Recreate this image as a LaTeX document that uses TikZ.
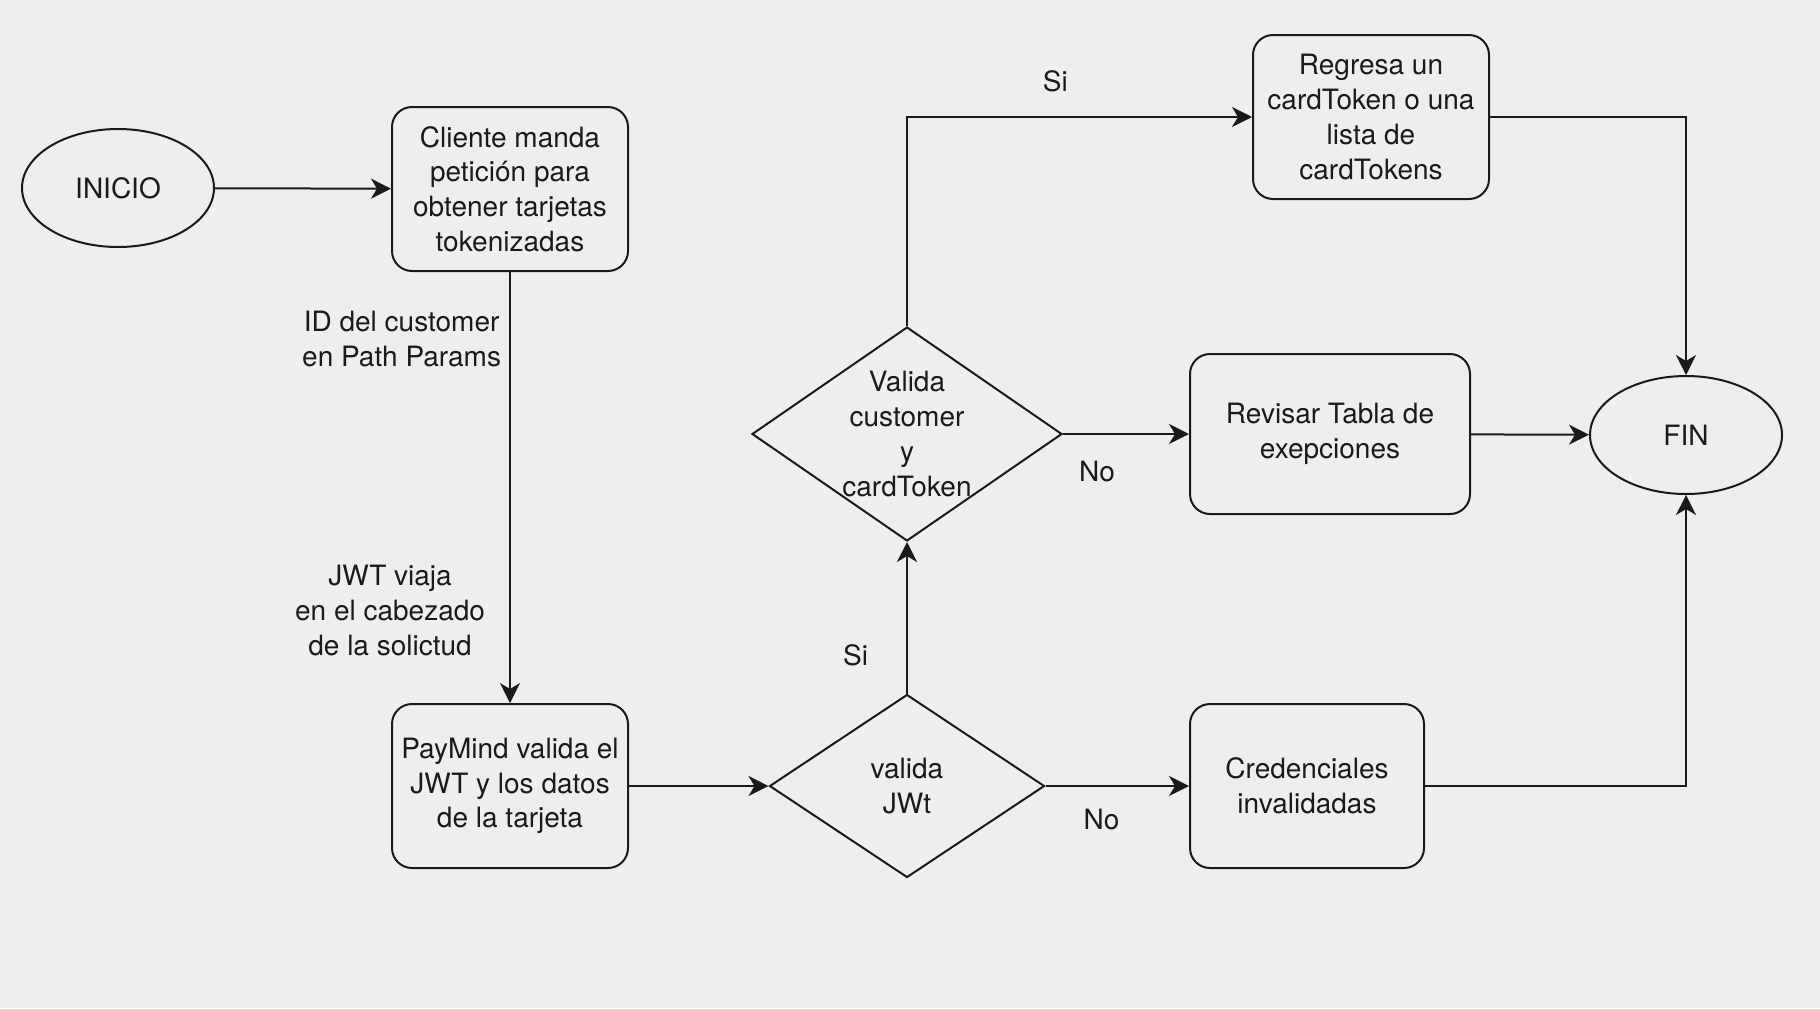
\documentclass[tikz,border=0pt]{standalone}
\usepackage{fontspec}
\setmainfont{TeX Gyre Heros}
\usepackage{xcolor}
\usepackage{tikz}
\usetikzlibrary{shapes.geometric,arrows.meta}

\definecolor{fondo}{HTML}{EEEEEE}
\definecolor{trazo}{HTML}{1A1A1A}

\tikzset{
	caja/.style={draw=trazo, line width=1pt, rounded corners=10pt, align=center,
		minimum width=118pt, minimum height=82pt, inner sep=0pt},
	elipse/.style={draw=trazo, line width=1pt, ellipse, minimum width=96pt,
		minimum height=59pt, inner sep=0pt},
	rombo/.style={draw=trazo, line width=1pt, diamond, inner sep=0pt},
	flecha/.style={draw=trazo, line width=1pt, -{Stealth[length=10pt, width=10pt, inset=3pt]}},
	etiqueta/.style={align=center, inner sep=0pt}
}

\begin{document}
\begin{tikzpicture}[x=0.5pt, y=-0.5pt, font=\fontsize{14}{17.4}\selectfont, text=trazo]
	
	\fill[fondo] (0,0) rectangle (1820,1008);
	
	\node[elipse] (inicio) at (118,188) {INICIO};
	\node[caja] (cliente) at (510,189) {Cliente manda\\petición para\\obtener tarjetas\\tokenizadas};
	\node[caja] (paymind) at (510,786) {PayMind valida el\\JWT y los datos\\de la tarjeta};
	
	\node[rombo, minimum width=137.5pt, minimum height=91.5pt,
		label={[align=center]center:valida\\JWt}] (jwt) at (907,786) {};
	\node[rombo, minimum width=155pt, minimum height=107pt,
		label={[align=center]center:Valida\\customer\\y\\cardToken}] (cust) at (907,434) {};
	
	\node[caja] (regresa) at (1371,117) {Regresa un\\cardToken o una\\lista de\\cardTokens};
	\node[caja, minimum width=140pt, minimum height=80pt] (revisar) at (1330,434) {Revisar Tabla de\\exepciones};
	\node[caja, minimum width=117pt] (cred) at (1307,786) {Credenciales\\invalidadas};
	\node[elipse] (fin) at (1686,435) {FIN};
	
	\draw[flecha] (inicio) -- (cliente);
	\draw[flecha] (cliente) -- node[etiqueta, pos=0.155, left=4pt] {ID del customer\\en Path Params}
		node[etiqueta, pos=0.785, left=12pt] {JWT viaja\\en el cabezado\\de la solictud} (paymind);
	\draw[flecha] (paymind) -- (jwt);
	
	\draw[flecha] (jwt) -- node[etiqueta, pos=0.25, left=19pt] {Si} (cust);
	\draw[flecha] (jwt) -- node[etiqueta, pos=0.39, below=11pt] {No} (cred);
	
	\draw[flecha] (cust) |- node[etiqueta, pos=0.715, above=12pt] {Si} (regresa);
	\draw[flecha] (cust) -- node[etiqueta, pos=0.27, below=13pt] {No} (revisar);
	
	\draw[flecha] (regresa) -| (fin);
	\draw[flecha] (revisar) -- (fin);
	\draw[flecha] (cred) -| (fin);
	
\end{tikzpicture}
\end{document}
